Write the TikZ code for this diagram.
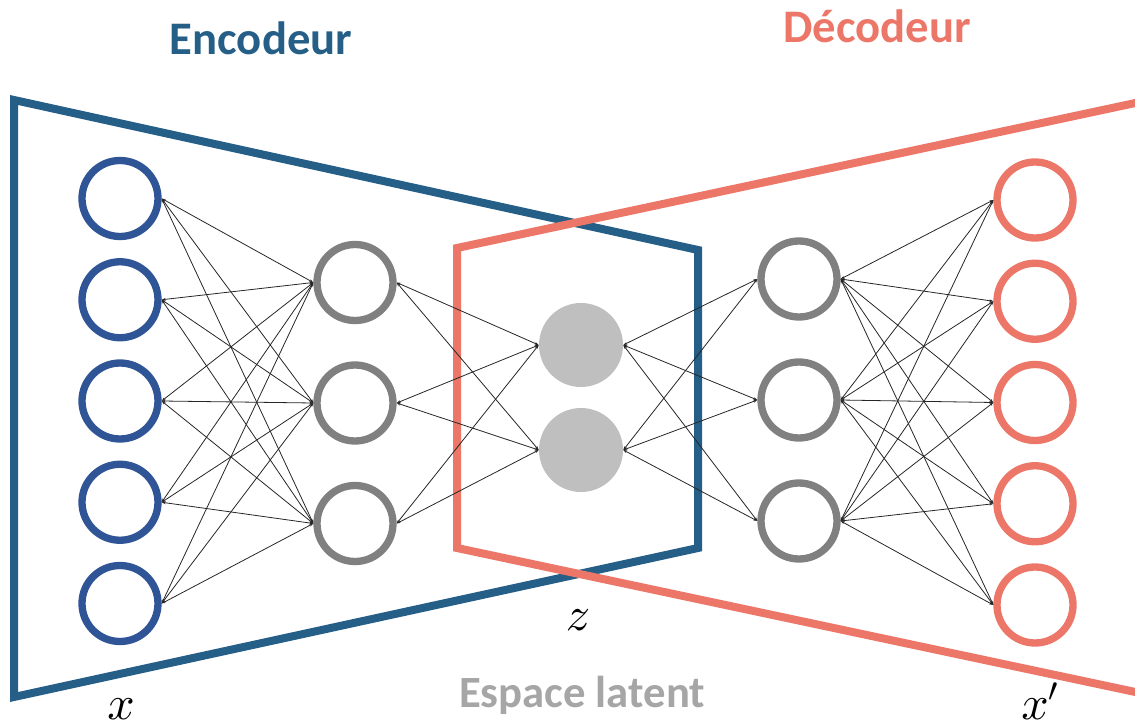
\documentclass[tikz,border=0pt]{standalone}
\usepackage{fontspec}
\setmainfont{Carlito}
\DeclareFontFamily{OML}{cmm}{\skewchar\font127 }
\DeclareFontShape{OML}{cmm}{m}{it}{<->cmmi10}{}
\DeclareFontFamily{OMS}{cmsy}{\skewchar\font48 }
\DeclareFontShape{OMS}{cmsy}{m}{n}{<->cmsy10}{}
\usetikzlibrary{arrows.meta}
\definecolor{encframe}{RGB}{37,94,134}
\definecolor{inblue}{RGB}{47,85,151}
\definecolor{salmon}{RGB}{236,118,104}
\definecolor{hidgray}{RGB}{128,128,128}
\definecolor{latgray}{RGB}{191,191,191}
\definecolor{txtgray}{RGB}{166,166,166}
\tikzset{
  frame/.style={line width=6pt, line join=miter},
  neuron/.style={circle, minimum size=57pt, inner sep=0pt, line width=5.5pt},
  inneuron/.style={neuron, draw=inblue},
  hidneuron/.style={neuron, draw=hidgray},
  outneuron/.style={neuron, draw=salmon},
  latneuron/.style={circle, minimum size=63pt, inner sep=0pt, fill=latgray},
  conn/.style={line width=0.6pt, black!85, {Stealth[length=3pt,width=2pt]}-{Stealth[length=3pt,width=2pt]}},
  title/.style={font=\fontsize{35}{40}\selectfont\bfseries, anchor=base},
  mathlbl/.style={font=\fontsize{36}{40}\selectfont, anchor=base, inner sep=0pt}
}
\begin{document}
\begin{tikzpicture}[x=0.75pt,y=-0.75pt]
\useasboundingbox (0,0) rectangle (1135,727);
% frames
\draw[frame, draw=encframe] (14,100) -- (698,250) -- (698,548) -- (14,697) -- cycle;
\draw[frame, draw=salmon] (1140,102) -- (457,248) -- (457,548) -- (1140,693);
% neurons
\foreach \i/\y in {1/198.5,2/299.75,3/401,4/502.25,5/603.5}{
  \node[inneuron] (i\i) at (120,\y) {};
  \node[outneuron] (o\i) at (1035,\y+1.5) {};
}
\foreach \i/\y in {1/282.5,2/403,3/523.5}{
  \node[hidneuron] (h\i) at (355,\y) {};
}
\foreach \i/\y in {1/279,2/400,3/521}{
  \node[hidneuron] (g\i) at (799,\y) {};
}
\node[latneuron] (l1) at (581,345) {};
\node[latneuron] (l2) at (581,450) {};
% connections
\foreach \a in {1,...,5}{\foreach \b in {1,2,3}{
  \draw[conn] (i\a.east) -- (h\b.west);
  \draw[conn] (g\b.east) -- (o\a.west);
}}
\foreach \a in {1,2,3}{\foreach \b in {1,2}{
  \draw[conn] (h\a.east) -- (l\b.west);
  \draw[conn] (l\b.east) -- (g\a.west);
}}
% labels
\node[title, text=encframe] (enc) at (261,55) {Encodeur};
\node[title, text=salmon] (dec) at (877,43) {Décodeur};
\node[title, text=txtgray, font=\fontsize{33.5}{38}\selectfont\bfseries] (lat) at (582,707) {Espace latent};
\node[mathlbl] (lx) at (121,719) {$x$};
\node[mathlbl] (lz) at (578,630) {$z$};
\node[mathlbl] (lxp) at (1040,719) {$x'$};
\end{tikzpicture}
\end{document}
